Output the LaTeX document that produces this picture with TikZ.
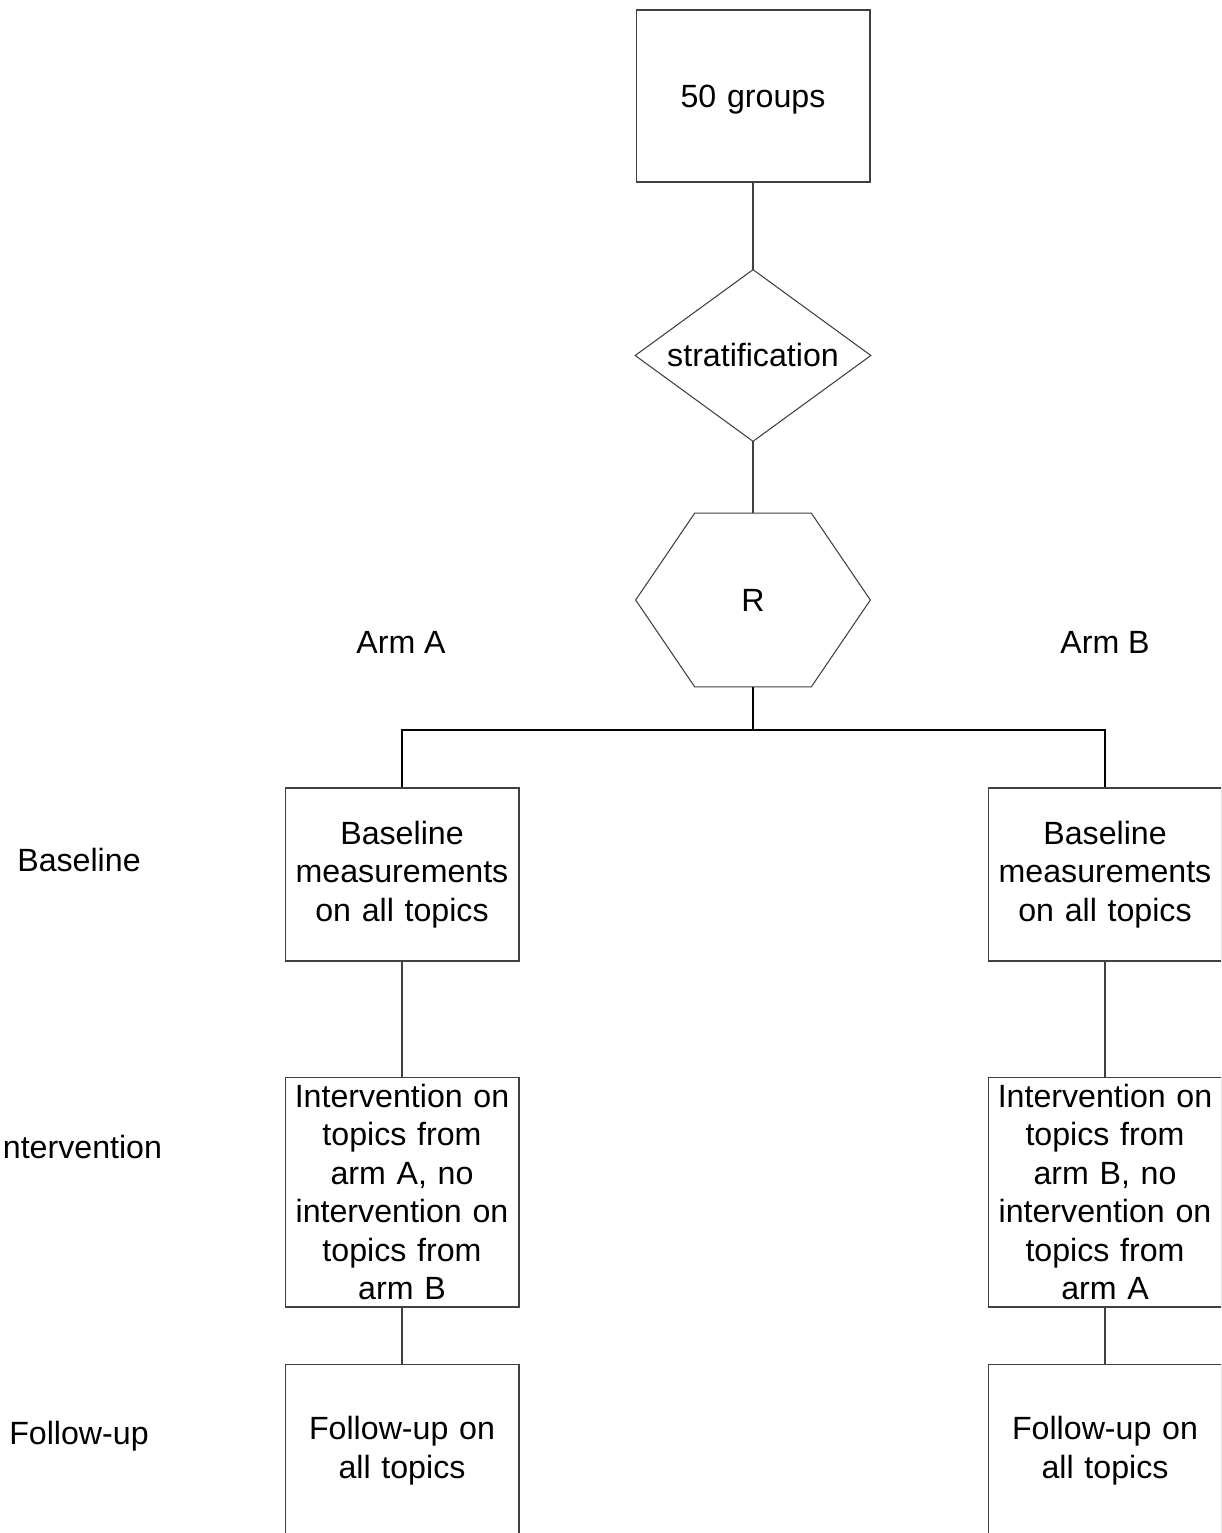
\documentclass[tikz,border=0pt]{standalone}
\usepackage{fontspec}
\setmainfont{Liberation Sans}
\usetikzlibrary{shapes.geometric,calc}
\begin{document}
\begin{tikzpicture}[x={(0.02cm,0)},y={(0,-0.02cm)},
  every node/.style={font=\fontsize{18.3}{21.9}\selectfont, text=black},
  ln/.style={draw=black!75, line width=0.6pt},
  boxA/.style={ln, rectangle, minimum width=4.68cm, minimum height=3.46cm, text width=4.5cm, align=center, inner sep=0pt},
  boxI/.style={ln, rectangle, minimum width=4.68cm, minimum height=4.6cm, text width=4.5cm, align=center, inner sep=0pt},
  lbl/.style={inner sep=0pt}]
\useasboundingbox (0,0) rectangle (1221,1533);
\clip (0,0) rectangle (1221,1533);
\fill[white] (0,0) rectangle (1221,1533);

\node[boxA, minimum height=3.44cm, text depth=0pt] (top) at (753,96) {50 groups};
\node[minimum width=4.7cm, minimum height=3.42cm, inner sep=0pt] (dia) at (753,355.5) {stratification};
\draw[ln] (dia.north) -- (dia.east) -- (dia.south) -- (dia.west) -- cycle;
\node[minimum width=4.68cm, minimum height=3.46cm, inner sep=0pt] (hex) at (753,600) {R};
\draw[ln] (hex.west) -- ($(hex.north west)+(59,0)$) -- ($(hex.north east)+(-59,0)$) -- (hex.east)
  -- ($(hex.south east)+(-59,0)$) -- ($(hex.south west)+(59,0)$) -- cycle;

\node[lbl] (armA) at (401,642) {Arm A};
\node[lbl] (armB) at (1105,642) {Arm B};

\node[lbl] (rowB) at (79,860) {Baseline};
\node[lbl] (rowI) at (78,1147) {Intervention};
\node[lbl] (rowF) at (79,1436) {Follow-up};

\node[boxA] (bA) at (402,874.5) {Baseline\\measurements\\on all topics};
\node[boxA] (bB) at (1105,874.5) {Baseline\\measurements\\on all topics};
\node[boxI] (iA) at (402,1192) {Intervention on\\topics from\\arm A, no\\intervention on\\topics from\\arm B};
\node[boxI] (iB) at (1105,1192) {Intervention on\\topics from\\arm B, no\\intervention on\\topics from\\arm A};
\node[boxA] (fA) at (402,1450.5) {Follow-up on\\all topics};
\node[boxA] (fB) at (1105,1450.5) {Follow-up on\\all topics};

\coordinate (J) at (753,730);
\draw[ln] (top.south) -- (dia.north);
\draw[ln] (dia.south) -- (hex.north);
\draw[ln, draw=black] (hex.south) -- (J);
\draw[ln, draw=black] (J) -| (bA.north);
\draw[ln, draw=black] (J) -| (bB.north);
\draw[ln] (bA.south) -- (iA.north);
\draw[ln] (bB.south) -- (iB.north);
\draw[ln] (iA.south) -- (fA.north);
\draw[ln] (iB.south) -- (fB.north);
\end{tikzpicture}
\end{document}
